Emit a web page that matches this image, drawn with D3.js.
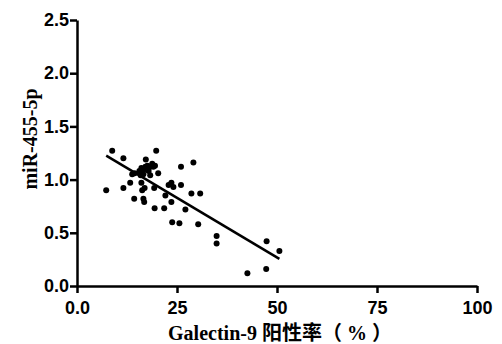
<!DOCTYPE html>
<html>
<head>
<meta charset="utf-8">
<script src="https://cdn.jsdelivr.net/npm/d3@7"></script>
<style>
  body { margin: 0; background: #fff; }
  svg { display: block; }
</style>
</head>
<body>
<div id="chart"></div>
<script>
// Galectin-9 positive rate (%) vs miR-455-5p
var galectinRate = [7.3, 8.8, 11.6, 11.6, 13.3, 14.3, 13.8, 14.4, 15.6, 16.1,
                    16.6, 17.1, 17.6, 18.3, 18.8, 19.1, 17.9, 16.6, 15.9, 17.2,
                    19.8, 19.5, 18.3, 20.3, 16.1, 16.3, 16.9, 16.6, 16.8, 19.3,
                    19.4, 21.8, 22.1, 23.6, 22.9, 23.6, 24.1, 26.0, 26.0, 29.1,
                    28.6, 30.8, 27.1, 23.8, 25.6, 30.3, 34.9, 34.9, 47.4, 50.6,
                    42.6, 47.3];
var mir455 = [0.90, 1.27, 1.20, 0.92, 0.97, 0.82, 1.05, 1.06, 1.08, 1.11,
              1.09, 1.12, 1.13, 1.12, 1.15, 1.12, 1.08, 1.05, 1.04, 1.19,
              1.27, 1.13, 1.04, 1.06, 0.97, 0.90, 0.92, 0.82, 0.79, 0.92,
              0.73, 0.73, 0.85, 0.79, 0.95, 0.97, 0.93, 1.12, 0.95, 1.16,
              0.87, 0.87, 0.72, 0.60, 0.59, 0.58, 0.47, 0.40, 0.42, 0.33,
              0.12, 0.16];
var xTicks = [0, 25, 50, 75, 100];
var yTicks = [0, 0.5, 1.0, 1.5, 2.0, 2.5];

var width = 502, height = 344;
var margin = { top: 20, right: 25, bottom: 58, left: 77 };

var svg = d3.select("#chart").append("svg")
  .attr("width", width)
  .attr("height", height);

var x = d3.scaleLinear().domain([0, 100]).range([margin.left, width - margin.right]);
var y = d3.scaleLinear().domain([0, 2.5]).range([height - margin.bottom, margin.top]);

var points = galectinRate.map(function(v, i) { return { x: v, y: mir455[i] }; });

// least squares line over the data range
var mx = d3.mean(galectinRate), my = d3.mean(mir455);
var sxy = d3.sum(points, function(d) { return (d.x - mx) * (d.y - my); });
var sxx = d3.sum(points, function(d) { return (d.x - mx) * (d.x - mx); });
var slope = sxy / sxx, intercept = my - slope * mx;
var xr = d3.extent(galectinRate);

svg.append("line")
  .attr("x1", x(xr[0])).attr("y1", y(intercept + slope * xr[0]))
  .attr("x2", x(xr[1])).attr("y2", y(intercept + slope * xr[1]))
  .attr("stroke", "#000")
  .attr("stroke-width", 2.5);

svg.selectAll(".dot")
  .data(points)
  .enter()
  .append("circle")
  .attr("class", "dot")
  .attr("cx", function(d) { return x(d.x); })
  .attr("cy", function(d) { return y(d.y); })
  .attr("r", 3)
  .attr("fill", "#000");

var xAxis = svg.append("g")
  .attr("transform", "translate(0," + y(0) + ")")
  .call(d3.axisBottom(x).tickValues(xTicks).tickSize(7).tickSizeOuter(0)
    .tickFormat(function(d) { return d === 0 ? "0.0" : d; }));

var yAxis = svg.append("g")
  .attr("transform", "translate(" + x(0) + ",0)")
  .call(d3.axisLeft(y).tickValues(yTicks).tickSize(7).tickSizeOuter(0)
    .tickFormat(d3.format(".1f")));

[xAxis, yAxis].forEach(function(a) {
  a.select(".domain").attr("stroke", "#000").attr("stroke-width", 2.5);
  a.selectAll(".tick line").attr("stroke", "#000").attr("stroke-width", 2.5);
  a.selectAll(".tick text")
    .attr("fill", "#000")
    .style("font-family", "'Liberation Sans', Arial, sans-serif")
    .style("font-weight", "bold")
    .style("font-size", "18px");
});
xAxis.selectAll(".tick text").attr("y", 9).attr("dy", "1.05em");
yAxis.selectAll(".tick text").attr("x", -8);

svg.append("text")
  .attr("x", 280)
  .attr("y", 340)
  .attr("text-anchor", "middle")
  .style("font-family", "'Liberation Serif', 'Noto Sans CJK SC', serif")
  .style("font-weight", "bold")
  .style("font-size", "20px")
  .text("Galectin-9 阳性率（ % ）");

svg.append("text")
  .attr("transform", "translate(37,139) rotate(-90)")
  .attr("text-anchor", "middle")
  .style("font-family", "'Liberation Serif', serif")
  .style("font-weight", "bold")
  .style("font-size", "20px")
  .text("miR-455-5p");
</script>
</body>
</html>
